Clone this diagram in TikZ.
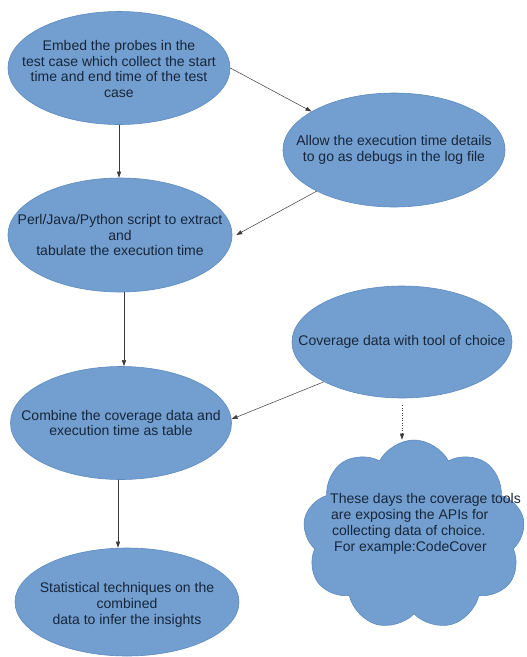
\documentclass[tikz,border=0pt]{standalone}
\usepackage{fontspec}
\setmainfont{Liberation Sans}
\usetikzlibrary{shapes.geometric,shapes.symbols,arrows.meta}
\definecolor{blobfill}{HTML}{729FCF}
\definecolor{blobline}{HTML}{5C8BC0}
\definecolor{inktext}{HTML}{17253A}
\definecolor{wire}{HTML}{3A3A3A}
\begin{document}
\begin{tikzpicture}[x=1pt,y=-1pt,
  blob/.style={ellipse, fill=blobfill, draw=blobline, line width=0.6pt, inner sep=0pt},
  puff/.style={cloud, cloud puffs=9, cloud puff arc=125, aspect=1.15,
    fill=blobfill, draw=blobline, line width=0.6pt, inner sep=0pt},
  caption/.style={text=inktext, font=\fontsize{14}{15.8}\selectfont, align=center, inner sep=0pt},
  flow/.style={draw=wire, line width=0.5pt, -{Triangle[length=6pt,width=4pt]}},
  hint/.style={flow, dotted}]
\useasboundingbox (0,0) rectangle (527,657);
\fill[white] (0,0) rectangle (527,657);

% process steps
\node[blob, minimum width=222, minimum height=113] (embed) at (119,68) {};
\node[caption] (embed-t) at ([yshift=-1pt]embed.center) {Embed the probes in the\\test case which collect the start\\time and end time of the test\\case};

\node[blob, minimum width=222, minimum height=114] (allow) at (394,150) {};
\node[caption] (allow-t) at (allow) {Allow the execution time details\\to go as debugs in the log file};

\node[blob, minimum width=224, minimum height=114] (perl) at (120,235) {};
\node[caption] (perl-t) at (perl) {Perl/Java/Python script to extract\\and\\tabulate the execution time};

\node[blob, minimum width=220, minimum height=112] (cov) at (402,342) {};
\node[caption] (cov-t) at (cov) {Coverage data with tool of choice};

\node[blob, minimum width=221, minimum height=113] (comb) at (121,423) {};
\node[caption] (comb-t) at (comb) {Combine the coverage data and\\execution time as table};

\node[blob, minimum width=224, minimum height=108] (stat) at (127,602) {};
\node[caption] (stat-t) at ([yshift=-3pt]stat.center) {Statistical techniques on the\\combined\\data to infer the insights};

% note cloud
\node[puff, minimum width=222, minimum height=190] (note) at (414,535) {};
\node[caption, align=left, anchor=west] (note-t) at (330,524) {These days the coverage tools\\\hspace{1pt}are exposing the APIs for\\\hspace{2pt}collecting data of choice.\\\hspace{4pt}For example:CodeCover};

% connectors
\draw[flow] (embed.south) -- (embed.south |- perl.north);
\draw[flow] (embed.east) -- (allow.155);
\draw[flow] (allow.208) -- ([xshift=4pt]perl.east);
\draw[flow] ([xshift=4pt]perl.south) -- ([xshift=4pt]perl.south |- comb.north);
\draw[flow] (cov.207) -- (comb.2);
\draw[hint, shorten <=7pt] (cov.south) -- (cov.south |- note.north);
\draw[flow] ([xshift=-3pt]comb.south) -- ([xshift=-3pt]comb.south |- stat.north);
\end{tikzpicture}
\end{document}
